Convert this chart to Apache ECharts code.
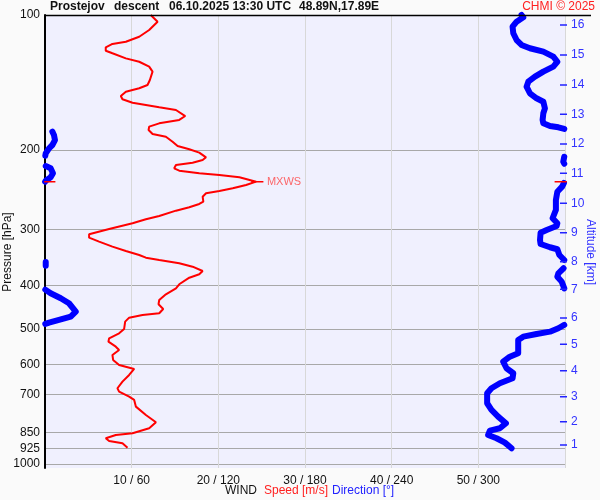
<!DOCTYPE html>
<html>
<head>
<meta charset="utf-8">
<script src="https://cdn.jsdelivr.net/npm/echarts@6/dist/echarts.min.js"></script>
<style>
html,body{margin:0;padding:0;background:#fafafa;}
#c{width:600px;height:500px;}
</style>
</head>
<body>
<div id="c"></div>
<script>
// ---- data ----
const pressureLabels = [100, 200, 300, 400, 500, 600, 700, 850, 925, 1000];
const altitudeKm = [1, 2, 3, 4, 5, 6, 7, 8, 9, 10, 11, 12, 13, 14, 15, 16];
const altitudePressure = [907, 805, 708.3, 619.7, 541.2, 473, 408.3, 354.3, 305.4, 262.7, 225.3, 193.8, 166.4, 143.2, 122.8, 105.3];
const speedTicks = [10, 20, 30, 40, 50];

const speedPressure = [100, 103.5, 108.0, 111.8, 114.7, 116.0, 118.0, 120.1, 121.7, 124.9, 127.1, 130.3, 133.7, 139.6, 143.2, 145.6, 148.2, 151.5, 154.1, 156.8, 158.6, 160.5, 162.8, 167.9, 171.3, 174.3, 177.3, 180.4, 184.1, 186.7, 191.5, 195.8, 199.1, 202.6, 207.5, 210.4, 213.3, 215.8, 219.5, 222.2, 225.2, 227.2, 229.9, 235.1, 239.1, 243.2, 246.6, 249.5, 253.9, 260.5, 263.6, 268.1, 272.8, 280.3, 285.1, 291.0,
  299.6, 307.9, 313.3, 319.8, 328.1, 335.4, 342.4, 347.2, 351.3, 357.3, 363.6, 371.7, 378.0, 384.7, 397.9, 406.2, 418.9, 431.3, 440.9, 451.6, 461.7, 465.7, 472.2, 482.0, 500.4, 511.6, 524.9, 534.1, 548.0, 557.4, 571.8, 586.7, 601.9, 614.3, 633.6, 655.7, 678.2, 690.2, 708.1, 720.2, 745.3, 777.8, 807.4, 832.7, 854.3, 861.8, 876.5, 888.7, 899.3, 919.8];
const speedValue = [12.2, 12.99, 12.02, 10.87, 9.33, 7.78, 7.01, 7.01, 7.78, 9.33, 10.87, 12.02, 12.41, 12.10, 11.83, 10.87, 9.33, 8.75, 8.94, 10.10, 11.64, 13.18, 15.11, 16.18, 15.49, 13.18, 12.02, 11.95, 12.41, 13.95, 14.72, 15.30, 16.65, 17.80, 18.58, 18.19, 17.03, 15.11, 14.91, 15.49, 17.80, 20.12, 22.43, 24.36, 23.20, 21.66, 20.12, 18.58, 18.19, 18.27, 17.80, 16.65, 15.11, 13.18, 11.64, 10.10,
  7.40, 5.09, 5.09, 6.24, 7.78, 9.33, 10.87, 11.64, 13.18, 15.49, 17.03, 18.19, 17.80, 16.65, 15.49, 15.11, 13.95, 13.18, 13.10, 13.64, 13.18, 11.25, 9.71, 9.25, 9.13, 8.55, 7.40, 7.32, 8.17, 8.55, 7.78, 7.86, 8.55, 10.29, 9.71, 8.94, 8.36, 8.55, 9.71, 10.29, 10.49, 11.64, 12.80, 12.02, 10.10, 8.17, 7.01, 7.40, 8.94, 9.52];

const dirPressure = [100, 101.2, 103.5, 106.2, 109.8, 113.7, 116.6, 118.6, 120.7, 123.8, 127.1, 130.3, 133.7, 137.2, 140.8, 144.4, 149.4, 153.3, 156.0, 161.4, 165.5, 171.3, 174.3, 176.7, 177.9, 179.4,
  181.9, 185.0, 189.9, 194.8, 198.1, 203.3, 205.8,
  206.8, 212.2, 214.5,
  217.0, 219.5, 225.2, 229.9, 233.9, 235.1,
  236.5, 241.2, 247.5, 258.2, 271.8, 283.6, 291.0, 295.1, 301.2, 305.4, 317.0, 323.6, 329.1, 332.5, 342.4, 351.3,
  355.0, 358.6, 362.0,
  366.5, 376.1, 382.7, 392.6, 406.5,
  409.0, 416.7, 427.5, 438.6, 457.9, 469.8, 477.8, 484.5, 487.7,
  490.2, 498.6, 507.4, 513.4, 520.6, 529.5, 566.9, 576.8, 591.8, 612.1, 628.1, 644.4, 661.1, 678.2, 695.9, 732.5, 758.1, 784.6, 811.6, 832.7, 843.0, 861.8, 876.5, 896.5, 922.6];
const dirValue = [329.9, 331.1, 326.5, 323.7, 324.2, 326.5, 329.9, 335.7, 345.0, 351.9, 354.7, 351.9, 345.0, 339.2, 334.6, 333.4, 335.7, 340.3, 345.0, 346.1, 345.0, 344.5, 345.0, 349.6, 355.4, 359.5,
  5.1, 6.2, 6.9, 5.1, 2.8, 0.5, 0.2,
  359.5, 358.8, 359.5,
  0.5, 3.9, 5.5, 3.9, 0.5, 0.1,
  359.3, 358.0, 354.7, 353.7, 353.7, 351.4, 354.7, 354.2, 347.3, 343.1, 342.7, 343.1, 349.6, 354.7, 356.1, 359.5,
  0.5, 1.5, 0.5,
  359.0, 355.4, 354.7, 357.7, 359.5,
  0.2, 3.9, 10.9, 16.6, 21.3, 17.8, 9.7, 2.8, 0.2,
  359.5, 355.4, 349.6, 340.3, 331.1, 327.6, 327.6, 321.8, 317.2, 319.5, 324.2, 323.7, 314.9, 309.1, 306.1, 306.1, 309.1, 313.7, 319.1, 314.9, 308.0, 306.8, 312.6, 318.4, 323.0];

const mxwsPressure = 235.1;
const mxwsSpeed = 24.4;

// ---- build ----
const speedData = speedPressure.map((p, i) => [speedValue[i], p]);
const dirData = [];
dirPressure.forEach((p, i) => {
  if (i > 0 && Math.abs(dirValue[i] - dirValue[i - 1]) > 180) dirData.push(['-', '-']);
  dirData.push([dirValue[i], p]);
});
const mxwsTicks = [[-0.1, mxwsPressure], [1.2, mxwsPressure], ['-', '-'],
  [mxwsSpeed - 0.6, mxwsPressure], [mxwsSpeed + 0.8, mxwsPressure], ['-', '-'],
  [58.8, mxwsPressure], [60.2, mxwsPressure]];
// altitude tick marks (short segments across the right edge, in speed units)
const altTickData = [];
altitudePressure.forEach((p, i) => {
  if (i > 0) altTickData.push(['-', '-']);
  altTickData.push([59.42, p], [60.36, p]);
});

const FONT = 'Liberation Sans, Arial, sans-serif';
const chart = echarts.init(document.getElementById('c'), null, {renderer: 'canvas'});
const yCommon = {type: 'log', logBase: 10, inverse: true, min: 100, max: 1021};

chart.setOption({
  animation: false,
  backgroundColor: '#fafafa',
  grid: {left: 45, top: 15, right: 35, bottom: 32, show: true, backgroundColor: '#f0f0fe', borderWidth: 0},
  xAxis: [{
    type: 'value', min: 0, max: 60, interval: 10,
    axisLine: {show: false}, axisTick: {show: false},
    axisLabel: {color: '#111', fontFamily: FONT, fontSize: 12, margin: 5, padding: [2, 0, 0, 0],
      formatter: v => speedTicks.includes(v) ? (v + ' / ' + v * 6) : ''},
    splitLine: {show: true, lineStyle: {color: '#d8d8d8', width: 1}}
  }, {
    type: 'value', min: 0, max: 360, show: false, splitLine: {show: false}
  }],
  yAxis: [Object.assign({}, yCommon, {
    position: 'left',
    axisLine: {show: true, lineStyle: {color: '#000', width: 2}},
    axisTick: {show: false, customValues: pressureLabels},
    axisLabel: {customValues: pressureLabels, color: '#111', fontFamily: FONT, fontSize: 12, margin: 5, padding: [3, 0, 0, 0],
      formatter: v => String(Math.round(v))},
    splitLine: {show: true, lineStyle: {color: '#a8a8a8', width: 1}}
  }), Object.assign({}, yCommon, {
    position: 'right',
    axisLine: {show: false},
    axisTick: {show: false, customValues: altitudePressure},
    axisLabel: {customValues: altitudePressure, color: '#3333ff', fontFamily: FONT, fontSize: 12, margin: 6, padding: [1, 0, 0, 0],
      formatter: v => {
        let best = 0, bd = Infinity;
        altitudePressure.forEach((p, i) => { const d = Math.abs(p - v); if (d < bd) { bd = d; best = i; } });
        return String(altitudeKm[best]);
      }},
    splitLine: {show: false}
  })],
  series: [{
    type: 'line', name: 'Speed', xAxisIndex: 0, yAxisIndex: 0, data: speedData,
    showSymbol: false, symbol: 'none', clip: false,
    lineStyle: {color: '#ff0000', width: 2}, z: 3
  }, {
    type: 'line', name: 'Direction', xAxisIndex: 1, yAxisIndex: 0, data: dirData,
    showSymbol: false, symbol: 'none', clip: false, connectNulls: false,
    lineStyle: {color: '#0000ff', width: 6, cap: 'round', join: 'round'}, z: 4
  }, {
    type: 'line', name: 'AltTicks', xAxisIndex: 0, yAxisIndex: 0, data: altTickData,
    showSymbol: false, symbol: 'none', clip: false, connectNulls: false,
    lineStyle: {color: '#2222ff', width: 1.5}, z: 4
  }, {
    type: 'line', name: 'MXWS', xAxisIndex: 0, yAxisIndex: 0, data: mxwsTicks,
    showSymbol: false, symbol: 'none', clip: false, connectNulls: false,
    lineStyle: {color: '#ff0000', width: 1.5}, z: 5
  }, {
    type: 'scatter', xAxisIndex: 0, yAxisIndex: 0, data: [[mxwsSpeed + 0.8, mxwsPressure]],
    symbolSize: 1, itemStyle: {color: 'rgba(0,0,0,0)'}, z: 5,
    label: {show: true, position: 'right', distance: 3, formatter: 'MXWS', color: '#ff4444', fontFamily: FONT, fontSize: 11}
  }],
  graphic: [
    {type: 'line', shape: {x1: 45, y1: 15.5, x2: 591, y2: 15.5}, style: {stroke: '#000', lineWidth: 1.5}, z: 100},
    {type: 'text', left: 50, top: 1, style: {text: 'Prostejov', font: 'bold 12px ' + FONT, fill: '#111'}},
    {type: 'text', left: 114, top: 1, style: {text: 'descent', font: 'bold 12px ' + FONT, fill: '#111'}},
    {type: 'text', left: 169, top: 1, style: {text: '06.10.2025 13:30 UTC', font: 'bold 12px ' + FONT, fill: '#111'}},
    {type: 'text', left: 299, top: 1, style: {text: '48.89N,17.89E', font: 'bold 12px ' + FONT, fill: '#111'}},
    {type: 'text', right: 5, top: 1, style: {text: 'CHMI \u00a9 2025', font: '12px ' + FONT, fill: '#ff2020'}},
    {type: 'text', x: 8, y: 252, rotation: Math.PI / 2, style: {text: 'Pressure [hPa]', font: '12px ' + FONT, fill: '#111', align: 'center', verticalAlign: 'middle'}},
    {type: 'text', x: 590, y: 252, rotation: -Math.PI / 2, style: {text: 'Altitude [km]', font: '12px ' + FONT, fill: '#3333ff', align: 'center', verticalAlign: 'middle'}},
    {type: 'text', left: 225, top: 485, style: {text: 'WIND', font: '12px ' + FONT, fill: '#111'}},
    {type: 'text', left: 264, top: 485, style: {text: 'Speed [m/s]', font: '12px ' + FONT, fill: '#ff2020'}},
    {type: 'text', left: 332, top: 485, style: {text: 'Direction [\u00b0]', font: '12px ' + FONT, fill: '#2222ff'}}
  ]
});
</script>
</body>
</html>
